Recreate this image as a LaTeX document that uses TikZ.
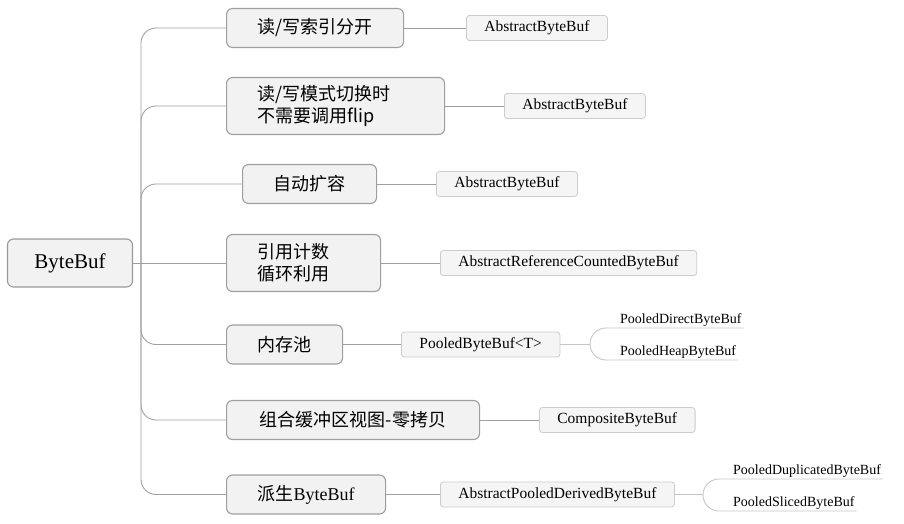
\documentclass[tikz,border=0pt]{standalone}
\usepackage{fontspec}
\setmainfont{Liberation Serif}
\newfontfamily\cjk{Noto Sans CJK SC}
\newfontfamily\latinrm{Liberation Serif}
\usepackage{tikz}

\begin{document}
\begin{tikzpicture}[x=1pt,y=-1pt,
    rootbox/.style={draw=gray!80, line width=1.1pt, fill=gray!10, rounded corners=6pt,
        minimum width=125pt, minimum height=48pt, font=\latinrm\fontsize{21}{24}\selectfont},
    topic/.style={draw=gray!75, line width=1.1pt, fill=gray!10, rounded corners=6pt,
        inner xsep=31pt, inner ysep=0pt, minimum height=39pt, anchor=west,
        font=\fontsize{18}{22}\selectfont},
    cls/.style={draw=gray!40, line width=0.8pt, fill=gray!8, rounded corners=3pt,
        inner xsep=18pt, inner ysep=0pt, minimum height=25pt, anchor=west,
        font=\latinrm\fontsize{15.5}{18}\selectfont},
    leaf/.style={inner xsep=2pt, inner ysep=1.5pt, anchor=south west,
        font=\latinrm\fontsize{14}{16}\selectfont},
    link/.style={draw=gray!75, line width=0.9pt},
    leaflink/.style={draw=gray!45, line width=0.9pt}]
    \useasboundingbox (0,0) rectangle (904,524);

    % root and the trunk
    \node[rootbox] (root) at (70,263) {ByteBuf};
    \coordinate (trunk) at (141,263);
    \draw[link] (root.east) -- (trunk);

    % first level
    \node[topic] (read) at (226,28) {\cjk 读/写索引分开};
    \node[topic, text width=156pt, align=left, minimum height=57pt] (mode) at (226,106) {\cjk 读/写模式切换时\\\cjk 不需要调用flip};
    \node[topic] (expand) at (242,184) {\cjk 自动扩容};
    \node[topic, text width=92pt, align=left, minimum height=57pt] (refcnt) at (226,263) {\cjk 引用计数\\\cjk 循环利用};
    \node[topic] (pool) at (226,344.5) {\cjk 内存池};
    \node[topic, minimum width=253pt] (compo) at (226,420) {\cjk 组合缓冲区视图-零拷贝};
    \node[topic] (derive) at (226,494.5) {{\cjk 派生}ByteBuf};

    \draw[link, rounded corners=15pt] (trunk) |- (read.west);
    \draw[link, rounded corners=15pt] (trunk) |- (mode.west);
    \draw[link, rounded corners=15pt] (trunk) |- (expand.west);
    \draw[link] (trunk) -- (refcnt.west);
    \draw[link, rounded corners=15pt] (trunk) |- (pool.west);
    \draw[link, rounded corners=15pt] (trunk) |- (compo.west);
    \draw[link, rounded corners=15pt] (trunk) |- (derive.west);

    % second level
    \node[cls] (absA) at (466,28) {AbstractByteBuf};
    \node[cls] (absB) at (504,106) {AbstractByteBuf};
    \node[cls] (absC) at (436,184) {AbstractByteBuf};
    \node[cls] (absRef) at (440,263) {AbstractReferenceCountedByteBuf};
    \node[cls] (pooledBuf) at (401,344.5) {PooledByteBuf<T>};
    \node[cls] (compoBuf) at (539,420) {CompositeByteBuf};
    \node[cls] (derivedBuf) at (440,494.5) {AbstractPooledDerivedByteBuf};

    \draw[link] (read) -- (absA);
    \draw[link] (mode) -- (absB);
    \draw[link] (expand) -- (absC);
    \draw[link] (refcnt) -- (absRef);
    \draw[link] (pool) -- (pooledBuf);
    \draw[link] (compo) -- (compoBuf);
    \draw[link] (derive) -- (derivedBuf);

    % leaves
    \node[leaf] (direct) at (618,328) {PooledDirectByteBuf};
    \node[leaf] (heap) at (618,360) {PooledHeapByteBuf};
    \node[leaf] (dup) at (731,479) {PooledDuplicatedByteBuf};
    \node[leaf] (sliced) at (731,511) {PooledSlicedByteBuf};

    \coordinate (poolFork) at (590,344.5);
    \coordinate (derivedFork) at (703,494.5);
    \draw[leaflink] (pooledBuf) -- (poolFork);
    \draw[leaflink, rounded corners=16pt] (poolFork) |- (direct.south east);
    \draw[leaflink, rounded corners=16pt] (poolFork) |- (heap.south east);
    \draw[leaflink] (derivedBuf) -- (derivedFork);
    \draw[leaflink, rounded corners=16pt] (derivedFork) |- (dup.south east);
    \draw[leaflink, rounded corners=16pt] (derivedFork) |- (sliced.south east);

\end{tikzpicture}
\end{document}
